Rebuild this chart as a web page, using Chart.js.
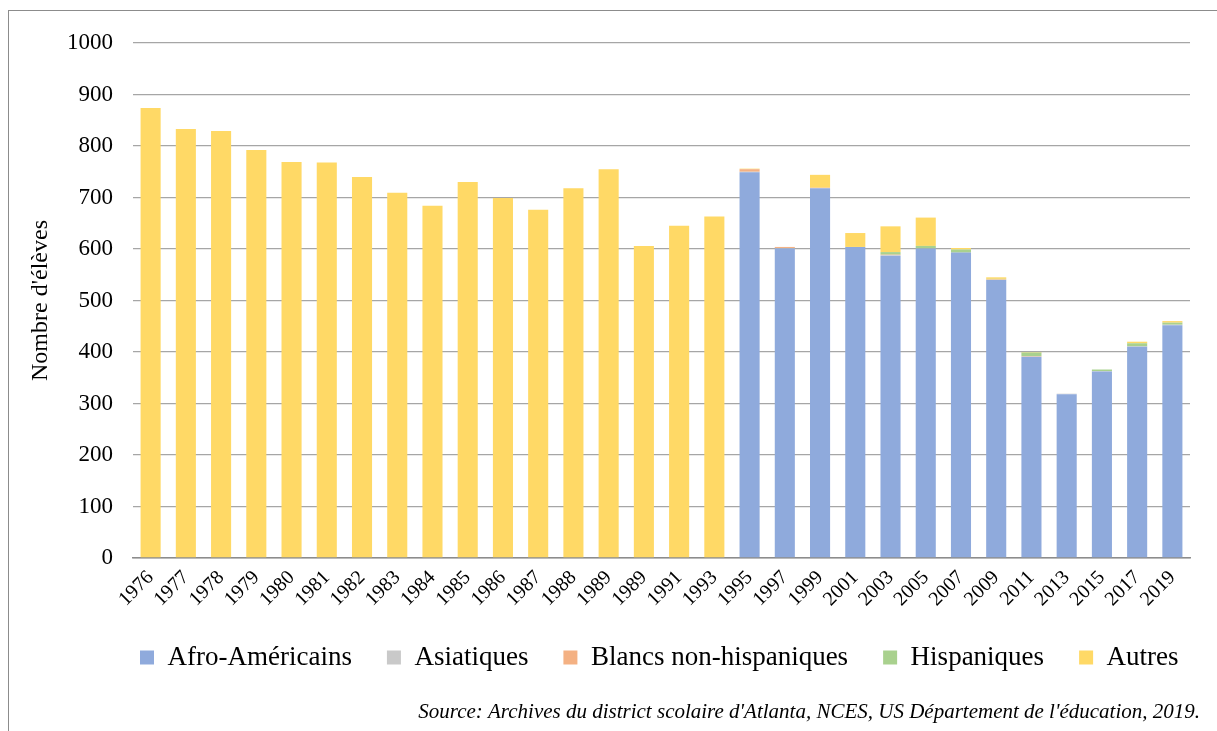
<!DOCTYPE html>
<html lang="fr">
<head>
<meta charset="utf-8">
<title>Nombre d'élèves</title>
<script src="https://cdn.jsdelivr.net/npm/chart.js@4/dist/chart.umd.min.js"></script>
<style>
    html, body { margin: 0; padding: 0; background: #fff; }
    #wrap { position: relative; width: 1217px; height: 731px; }
    #frame {
        position: absolute; left: 8px; top: 10px; right: -5px; bottom: -5px;
        border-top: 1.5px solid #8c8c8c; border-left: 1.5px solid #8c8c8c;
    }
    canvas { position: absolute; left: 0; top: 0; }
</style>
</head>
<body>
<div id="wrap">
    <div id="frame"></div>
    <canvas id="chart" width="1217" height="731"></canvas>
</div>
<script>
// years as printed under the bars (1989 appears twice in the source)
const years = ['1976', '1977', '1978', '1979', '1980', '1981', '1982', '1983', '1984', '1985',
    '1986', '1987', '1988', '1989', '1989', '1991', '1993', '1995', '1997', '1999', '2001',
    '2003', '2005', '2007', '2009', '2011', '2013', '2015', '2017', '2019'];

// 17 early years only have a total (shown as "Autres"), then 13 detailed years
const early = new Array(17).fill(null);

const afroAmericains = [...early, 749, 601, 718, 604, 587, 601, 593, 540, 391, 318, 362, 410, 452];
const asiatiques = [...early, 1, 1, 0, 0, 1, 0, 0, 0, 0, 1, 1, 1, 1];
const blancs = [...early, 5, 2, 1, 0, 1, 0, 0, 1, 1, 0, 0, 0, 0];
const hispaniques = [...early, 0, 0, 0, 0, 5, 5, 6, 1, 7, 0, 3, 6, 4];
const autres = [874, 833, 829, 792, 769, 768, 740, 709, 684, 730, 699, 676, 718, 755, 606, 645, 663,
    1, 0, 25, 27, 50, 55, 3, 3, 1, 0, 0, 3, 3];

const yTicks = [0, 100, 200, 300, 400, 500, 600, 700, 800, 900, 1000];

const sourceText = "Source: Archives du district scolaire d'Atlanta, NCES, US Département de l'éducation, 2019.";

const serif = "'Liberation Serif', 'Times New Roman', serif";
const legendGap = 35;

// keeps the legend on one row, starting where the original starts it
const legendRow = {
    id: 'legendRow',
    beforeInit(chart) {
        const legend = chart.legend;
        const fit = legend.fit;
        legend.fit = function () {
            this.maxWidth = 2000;
            fit.call(this);
            this.height = 122;
        };
    },
    afterLayout(chart) {
        chart.legend.left = 140 - legendGap;
        chart.legend.right = chart.width;
    }
};

// source line, bottom right, italic
const sourceNote = {
    id: 'sourceNote',
    afterDraw(chart) {
        const ctx = chart.ctx;
        ctx.save();
        ctx.font = 'italic 21px ' + serif;
        ctx.fillStyle = '#000';
        ctx.textAlign = 'right';
        ctx.textBaseline = 'middle';
        ctx.fillText(sourceText, chart.width - 17, 712);
        ctx.restore();
    }
};

function series(label, data, color) {
    return {
        label: label,
        data: data,
        backgroundColor: color,
        borderWidth: 0,
        barPercentage: 0.57,
        categoryPercentage: 1
    };
}

new Chart(document.getElementById('chart'), {
    type: 'bar',
    data: {
        labels: years,
        datasets: [
            series('Afro-Américains', afroAmericains, '#8faadc'),
            series('Asiatiques', asiatiques, '#c9c9c9'),
            series('Blancs non-hispaniques', blancs, '#f4b183'),
            series('Hispaniques', hispaniques, '#a9d18e'),
            series('Autres', autres, '#ffd966')
        ]
    },
    options: {
        responsive: false,
        animation: false,
        layout: { padding: { left: 20, right: 27, top: 43, bottom: 0 } },
        scales: {
            x: {
                stacked: true,
                grid: { display: false },
                border: { display: true, color: '#8c8c8c', width: 1.5 },
                ticks: {
                    color: '#000',
                    font: { family: serif, size: 20 },
                    minRotation: 45,
                    maxRotation: 45,
                    autoSkip: false,
                    padding: 0
                },
                afterFit(scale) { scale.height = 51; }
            },
            y: {
                stacked: true,
                min: 0,
                max: 1000,
                afterBuildTicks(scale) { scale.ticks = yTicks.map(v => ({ value: v })); },
                grid: { color: '#a6a6a6', lineWidth: 1.3, drawTicks: false },
                border: { display: false },
                ticks: {
                    color: '#000',
                    font: { family: serif, size: 23 },
                    padding: 20,
                    callback: v => String(v)
                },
                title: {
                    display: true,
                    text: "Nombre d'élèves",
                    color: '#000',
                    font: { family: serif, size: 24 },
                    padding: { top: 6, bottom: 0 }
                },
                afterFit(scale) { scale.width = 113; }
            }
        },
        plugins: {
            legend: {
                position: 'bottom',
                fullSize: false,
                align: 'start',
                labels: {
                    color: '#000',
                    font: { family: serif, size: 27 },
                    boxWidth: 14,
                    boxHeight: 14,
                    padding: legendGap
                }
            },
            tooltip: { enabled: false }
        }
    },
    plugins: [legendRow, sourceNote]
});
</script>
</body>
</html>
